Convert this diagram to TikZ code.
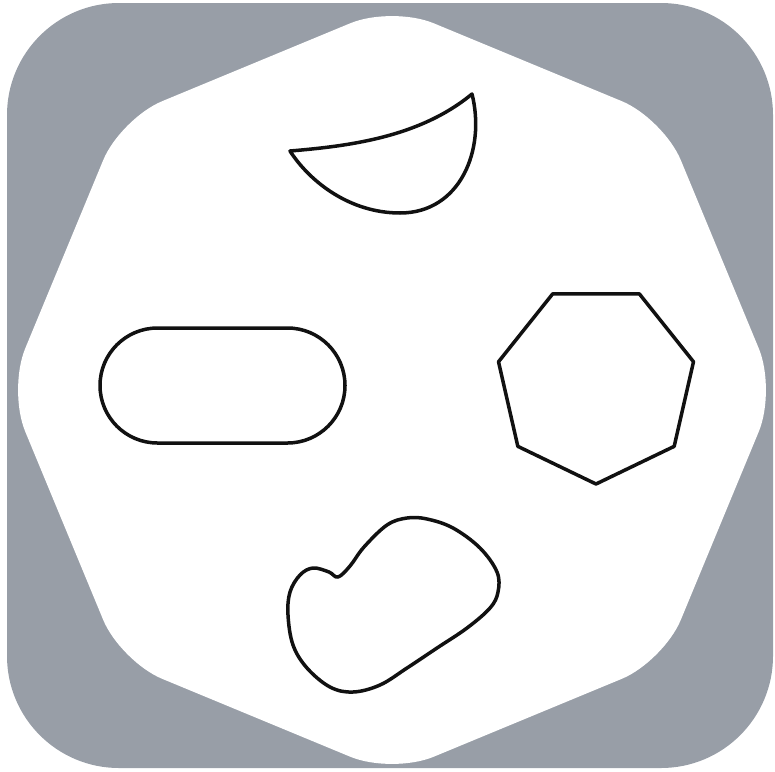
\documentclass[tikz,border=0pt]{standalone}
\usepackage{tikz}
\usetikzlibrary{calc}
\definecolor{FrameGray}{HTML}{989EA7}
\definecolor{InkBlack}{HTML}{111111}

\begin{document}
\begin{tikzpicture}[x=1pt, y=-1pt,
  outline/.style={draw=InkBlack, line width=3.5pt, line join=round, fill=white}]
\useasboundingbox (0,0) rectangle (775,771);
\fill[FrameGray, rounded corners=112] (7,3) rectangle (773,768);
\fill[white, rounded corners=45] (392,390) +(0:384)
  \foreach \a in {45,90,...,315}{ -- +(\a:384)} -- cycle;
% crescent
\draw[outline] (290,151) .. controls (350,146) and (420,137) .. (472,94)
  .. controls (486,150) and (460,213) .. (400,213)
  .. controls (350,213) and (310,182) .. (290,151) -- cycle;
% stadium
\draw[outline, rounded corners=57.5] (100,328) rectangle (345,443);
% heptagon
\draw[outline] (596,384) +(90:100)
  \foreach \k in {1,...,6}{ -- +(90+\k*360/7:100)} -- cycle;
% blob
\draw[outline] plot[smooth cycle, tension=0.6] coordinates {
  (290,592) (300,575) (313,568) (329,572) (338,577) (350,566) (364,547)
  (387,525) (407,518) (427,519) (453,528) (480,548) (497,572) (498,592)
  (490,608) (467,628) (437,648) (407,668) (380,685) (353,692) (330,687)
  (307,668) (293,645) (288,615)};
\end{tikzpicture}
\end{document}
